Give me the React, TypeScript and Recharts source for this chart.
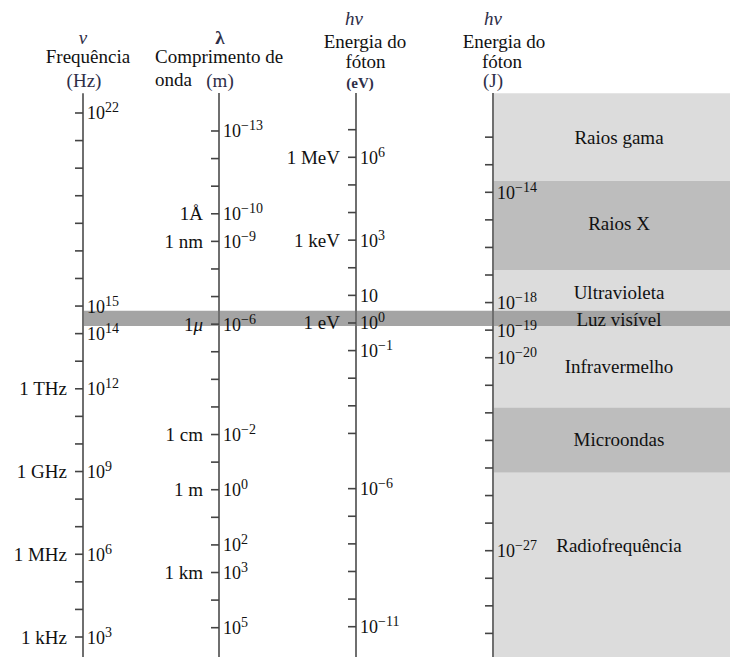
import {
  ComposedChart,
  XAxis,
  YAxis,
  Scatter,
  ReferenceArea,
  ReferenceLine,
  Customized,
} from 'recharts';

const FONT = '"Liberation Serif", "Times New Roman", serif';
const INK = '#111111';
const ACCENT = '#2e2e48';
const AXIS_STROKE = '#6f6f6f';
const TICK_STROKE = '#444444';

// decade ticks, as log10 of each quantity
const freqTicks = [22, 21, 20, 19, 18, 17, 16, 15, 14, 13, 12, 11, 10, 9, 8, 7, 6, 5, 4, 3];
const freqLabelled = [22, 15, 14, 12, 9, 6, 3];
const freqNames: Record<string, string> = { '12': '1 THz', '9': '1 GHz', '6': '1 MHz', '3': '1 kHz' };

const waveTicks = [-13, -12, -11, -10, -9, -8, -7, -6, -5, -4, -3, -2, -1, 0, 1, 2, 3, 4, 5];
const waveLabelled = [-13, -10, -9, -6, -2, 0, 2, 3, 5];
const waveNames: Record<string, string> = {
  '-10': '1Å',
  '-9': '1 nm',
  '-6': '1μ',
  '-2': '1 cm',
  '0': '1 m',
  '3': '1 km',
};

const evTicks = [7, 6, 5, 4, 3, 2, 1, 0, -1, -2, -3, -4, -6, -7, -8, -9, -10, -11];
const evLabelled = [6, 3, 1, 0, -1, -6, -11];
const evNames: Record<string, string> = { '6': '1 MeV', '3': '1 keV', '0': '1 eV' };

const jouleTicks = [-12, -13, -14, -15, -16, -17, -18, -19, -20, -21, -22, -23, -24, -25, -26, -27, -28, -29, -30];
const jouleLabelled = [-14, -18, -19, -20, -27];

// spectrum regions, log10(Hz)
const bandNames = ['Raios gama', 'Raios X', 'Ultravioleta', 'Luz visível', 'Infravermelho', 'Microondas', 'Radiofrequência'];
const bandHigh = [22.72, 19.53, 16.31, 14.83, 14.28, 11.32, 8.96];
const bandLow = [19.53, 16.31, 14.83, 14.28, 11.32, 8.96, 2.27];
const bandLabelAt = [21.12, 18.0, 15.48, 14.52, 12.8, 10.17, 6.3];

const BAND_FILL: Record<string, string> = {
  'Raios gama': '#dcdcdc',
  'Raios X': '#bdbdbd',
  Ultravioleta: '#dcdcdc',
  'Luz visível': '#a4a4a4',
  Infravermelho: '#dcdcdc',
  Microondas: '#bdbdbd',
  'Radiofrequência': '#dcdcdc',
};

const W = 730;
const H = 657;
const X_FREQ = 83;
const X_WAVE = 219;
const X_EV = 356;
const X_JOULE = 493;
const BAND_LABEL_X = 619;

// axis domains chosen so one decade spans ~27.6px on every scale
const FREQ_DOMAIN: [number, number] = [2.275, 26.097];
const WAVE_DOMAIN: [number, number] = [-17.747, 6.062];
const EV_DOMAIN: [number, number] = [-12.097, 11.697];
const JOULE_DOMAIN: [number, number] = [-30.856, -7.025];

// upper end of each axis line, in that axis's units
const FREQ_TOP = 22.72;
const WAVE_TOP = -14.38;
const EV_TOP = 8.33;
const JOULE_TOP = -10.4;

const buildTicks = (
  x: number,
  ticks: number[],
  labelled: number[],
  names: Record<string, string> = {}
) =>
  ticks.map((v) => ({
    x,
    v,
    exp: labelled.includes(v) ? v : null,
    name: names[String(v)] ?? null,
  }));

const freqData = buildTicks(X_FREQ, freqTicks, freqLabelled, freqNames);
const waveData = buildTicks(X_WAVE, waveTicks, waveLabelled, waveNames);
const evData = buildTicks(X_EV, evTicks, evLabelled, evNames);
const jouleData = buildTicks(X_JOULE, jouleTicks, jouleLabelled);

const bandLabelData = bandNames.map((name, i) => ({ x: BAND_LABEL_X, v: bandLabelAt[i], name }));

const fmtExp = (e: number) => (e < 0 ? `\u2212${-e}` : String(e));

const renderName = (name: string) => {
  if (name.endsWith('μ')) {
    return (
      <>
        {name.slice(0, -1)}
        <tspan fontStyle="italic">μ</tspan>
      </>
    );
  }
  return name;
};

const DecadeTick = (props: any) => {
  const { cx, cy, payload } = props;
  if (cx == null || cy == null) return <g />;
  return (
    <g fontFamily={FONT}>
      <line x1={cx - 8} x2={cx} y1={cy} y2={cy} stroke={TICK_STROKE} strokeWidth={1.6} />
      {payload.exp !== null && (
        <text x={cx + 4} y={cy + 6.5} fontSize={18} fill={INK}>
          10
          {payload.exp !== 1 && (
            <tspan dy={-7} fontSize={14}>
              {fmtExp(payload.exp)}
            </tspan>
          )}
        </text>
      )}
      {payload.name && (
        <text x={cx - 16} y={cy + 6.5} fontSize={19} fill={INK} textAnchor="end">
          {renderName(payload.name)}
        </text>
      )}
    </g>
  );
};

const BandLabel = (props: any) => {
  const { cx, cy, payload } = props;
  if (cx == null || cy == null) return <g />;
  return (
    <text x={cx} y={cy + 6.5} textAnchor="middle" fontSize={19} fontFamily={FONT} fill={INK}>
      {payload.name}
    </text>
  );
};

const Headers = () => (
  <g fontFamily={FONT} fontSize={19}>
    {/* frequency */}
    <text x={X_FREQ} y={44} textAnchor="middle" fontStyle="italic" fill={ACCENT}>ν</text>
    <text x={88} y={63} textAnchor="middle" fill={INK}>Frequência</text>
    <text x={84} y={87} textAnchor="middle" fill={ACCENT}>(Hz)</text>
    {/* wavelength */}
    <text x={220} y={44} textAnchor="middle" fontWeight="bold" fill={ACCENT}>λ</text>
    <text x={155} y={63} fill={INK}>Comprimento de</text>
    <text x={155} y={85.5} fill={INK}>onda</text>
    <text x={220} y={87} textAnchor="middle" fill={ACCENT}>(m)</text>
    {/* photon energy, eV */}
    <text x={354} y={25} textAnchor="middle" fontStyle="italic" fill={ACCENT}>hν</text>
    <text x={365} y={48} textAnchor="middle" fill={INK}>Energia do</text>
    <text x={365.5} y={68} textAnchor="middle" fill={INK}>fóton</text>
    <text x={360} y={88} textAnchor="middle" fontSize={15} fontWeight="bold" fill={ACCENT}>(eV)</text>
    {/* photon energy, J */}
    <text x={493} y={25} textAnchor="middle" fontStyle="italic" fill={ACCENT}>hν</text>
    <text x={504} y={48} textAnchor="middle" fill={INK}>Energia do</text>
    <text x={502} y={68} textAnchor="middle" fill={INK}>fóton</text>
    <text x={493} y={87} textAnchor="middle" fill={ACCENT}>(J)</text>
  </g>
);

export default function App() {
  return (
    <div style={{ position: 'absolute', left: 0, top: 0, width: W, height: H, background: '#fff' }}>
      <ComposedChart width={W} height={H} margin={{ top: 0, right: 0, bottom: 0, left: 0 }}>
        <XAxis xAxisId="px" type="number" dataKey="x" domain={[0, W]} allowDataOverflow hide />
        <YAxis yAxisId="freq" type="number" dataKey="v" domain={FREQ_DOMAIN} allowDataOverflow hide />
        <YAxis yAxisId="wave" type="number" dataKey="v" domain={WAVE_DOMAIN} reversed allowDataOverflow hide />
        <YAxis yAxisId="ev" type="number" dataKey="v" domain={EV_DOMAIN} allowDataOverflow hide />
        <YAxis yAxisId="joule" type="number" dataKey="v" domain={JOULE_DOMAIN} allowDataOverflow hide />

        {bandNames.map((name, i) =>
          name === 'Luz visível' ? null : (
            <ReferenceArea
              key={name}
              xAxisId="px"
              yAxisId="freq"
              x1={X_JOULE}
              x2={W}
              y1={bandLow[i]}
              y2={bandHigh[i]}
              fill={BAND_FILL[name]}
              fillOpacity={1}
              stroke="none"
              ifOverflow="visible"
            />
          )
        )}
        {bandNames.map((name, i) =>
          name === 'Luz visível' ? (
            <ReferenceArea
              key={name}
              xAxisId="px"
              yAxisId="freq"
              x1={X_FREQ}
              x2={W}
              y1={bandLow[i]}
              y2={bandHigh[i]}
              fill={BAND_FILL[name]}
              fillOpacity={1}
              stroke="none"
              ifOverflow="visible"
            />
          ) : null
        )}

        <ReferenceLine
          xAxisId="px"
          yAxisId="freq"
          segment={[{ x: X_FREQ, y: FREQ_TOP }, { x: X_FREQ, y: FREQ_DOMAIN[0] }]}
          stroke={AXIS_STROKE}
          strokeWidth={2}
        />
        <ReferenceLine
          xAxisId="px"
          yAxisId="wave"
          segment={[{ x: X_WAVE, y: WAVE_TOP }, { x: X_WAVE, y: WAVE_DOMAIN[1] }]}
          stroke={AXIS_STROKE}
          strokeWidth={2}
        />
        <ReferenceLine
          xAxisId="px"
          yAxisId="ev"
          segment={[{ x: X_EV, y: EV_TOP }, { x: X_EV, y: EV_DOMAIN[0] }]}
          stroke={AXIS_STROKE}
          strokeWidth={2}
        />
        <ReferenceLine
          xAxisId="px"
          yAxisId="joule"
          segment={[{ x: X_JOULE, y: JOULE_TOP }, { x: X_JOULE, y: JOULE_DOMAIN[0] }]}
          stroke={AXIS_STROKE}
          strokeWidth={2}
        />

        <Scatter xAxisId="px" yAxisId="freq" data={freqData} dataKey="v" shape={DecadeTick} isAnimationActive={false} />
        <Scatter xAxisId="px" yAxisId="wave" data={waveData} dataKey="v" shape={DecadeTick} isAnimationActive={false} />
        <Scatter xAxisId="px" yAxisId="ev" data={evData} dataKey="v" shape={DecadeTick} isAnimationActive={false} />
        <Scatter xAxisId="px" yAxisId="joule" data={jouleData} dataKey="v" shape={DecadeTick} isAnimationActive={false} />
        <Scatter xAxisId="px" yAxisId="freq" data={bandLabelData} dataKey="v" shape={BandLabel} isAnimationActive={false} />

        <Customized component={Headers} />
      </ComposedChart>
    </div>
  );
}
